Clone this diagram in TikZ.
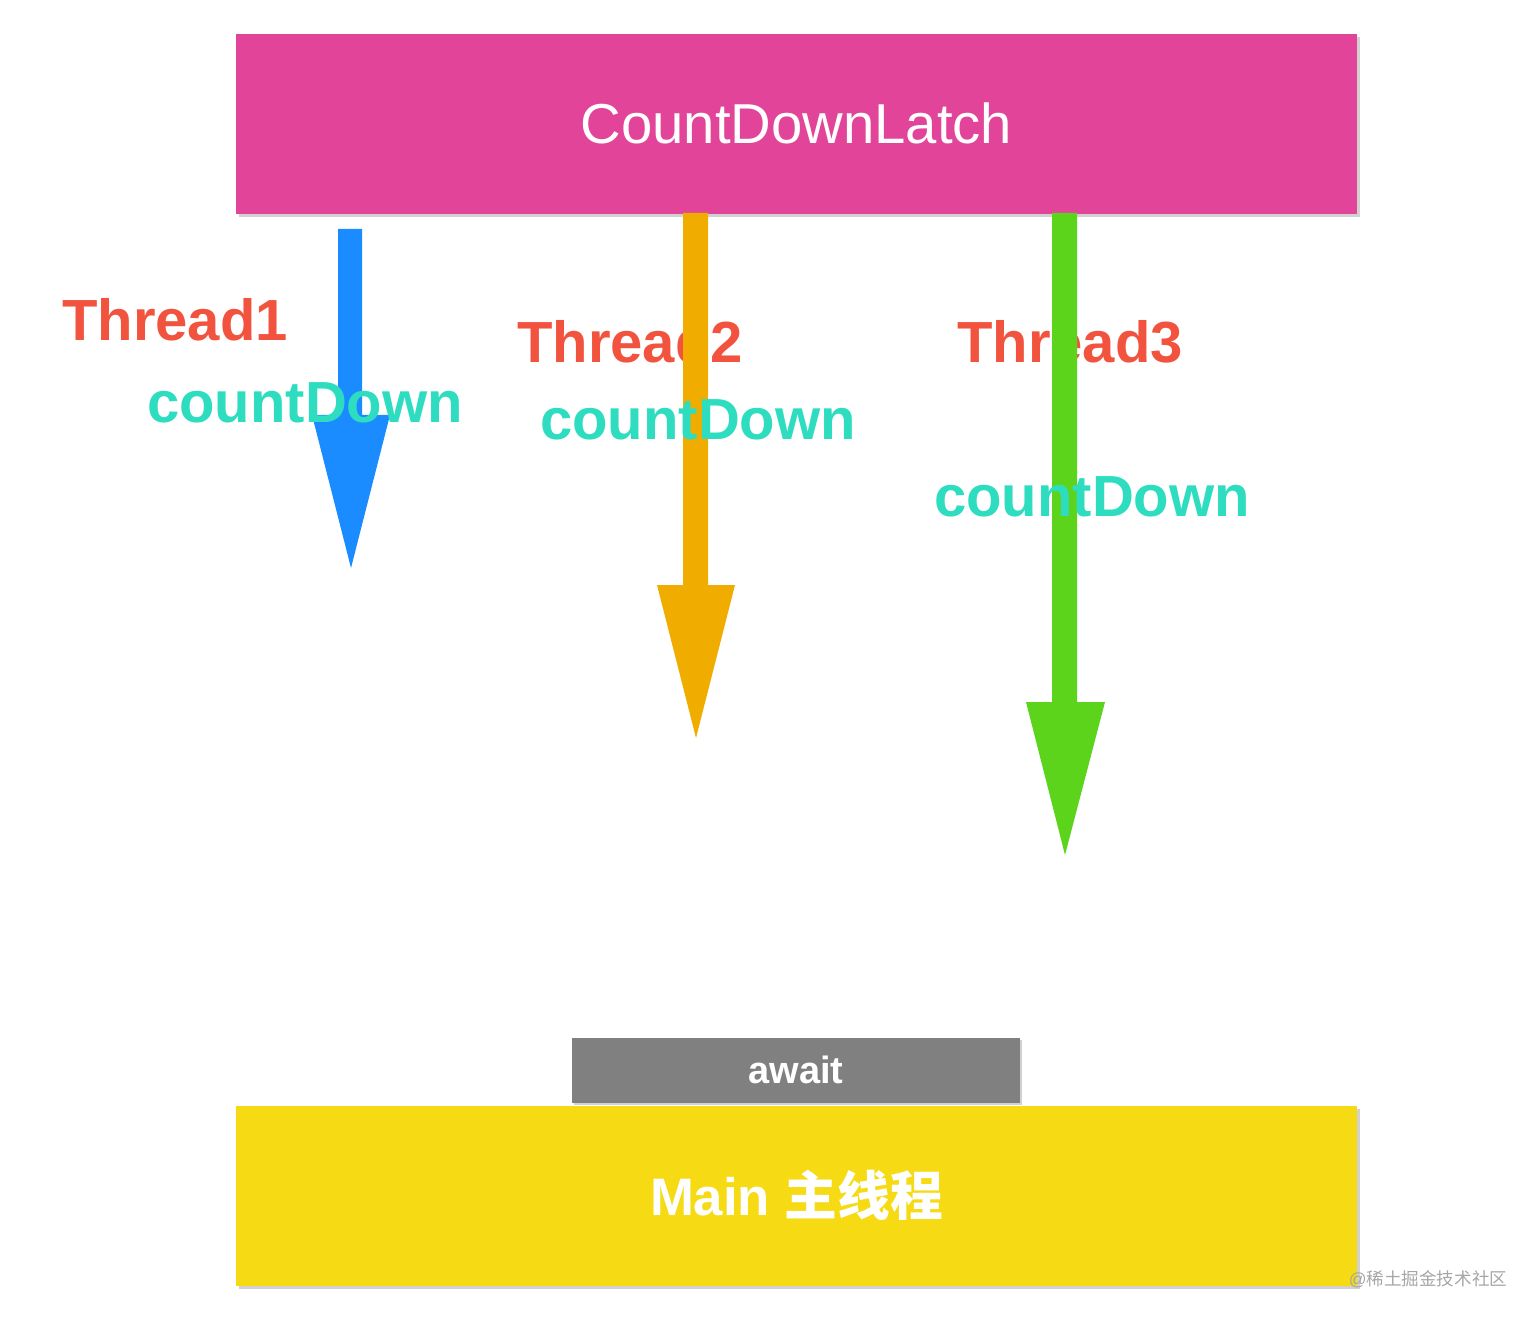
\documentclass[tikz,border=0pt]{standalone}
\usepackage{fontspec}
\setmainfont{Liberation Sans}
\newfontfamily\cjk{Noto Sans CJK SC}
\definecolor{pinkc}{HTML}{E2449A}
\definecolor{bluec}{HTML}{1A8CFF}
\definecolor{orangec}{HTML}{F0AD00}
\definecolor{greenc}{HTML}{5DD41C}
\definecolor{redc}{HTML}{F2533E}
\definecolor{cyanc}{HTML}{2EDDC0}
\definecolor{yellowc}{HTML}{F5DA14}
\definecolor{grayc}{HTML}{808080}
\begin{document}
\begin{tikzpicture}[x=0.01cm,y=-0.01cm,
  thr/.style={text=redc,font=\fontsize{16.5}{18}\selectfont\bfseries,inner sep=0},
  cd/.style={text=cyanc,font=\fontsize{16.5}{18}\selectfont\bfseries,inner sep=0},
  shadowbox/.style={fill=black!18,draw=none}]
\useasboundingbox (0,0) rectangle (1540,1322);
% top box
\fill[shadowbox] (239,37) rectangle (1360,217);
\node[fill=pinkc,minimum width=11.21cm,minimum height=1.8cm,anchor=north west,inner sep=0] (latch) at (235,33) {};
\node[text=white,font=\fontsize{16}{18}\selectfont] at (latch.center) {CountDownLatch};
% thread labels (under arrows)
\node[thr] (t1) at (175,320) {Thread1};
\node[thr] (t2) at (630,342) {Thread2};
\node[thr] (t3) at (1070,342) {Thread3};
% arrows
\fill[bluec] (338,229) -- (362,229) -- (362,415) -- (390,415) -- (351,568) -- (312,415) -- (338,415) -- cycle;
\fill[orangec] (683,213) -- (708,213) -- (708,585) -- (735,585) -- (696,738) -- (657,585) -- (683,585) -- cycle;
\node[cd] (c1) at (305,403) {countDown};
\node[cd] (c2) at (698,420) {countDown};
\fill[greenc] (1052,213) -- (1077,213) -- (1077,702) -- (1105,702) -- (1065,855) -- (1026,702) -- (1052,702) -- cycle;
\node[cd] (c3) at (1092,497) {countDown};
% await
\fill[shadowbox] (574,1040) rectangle (1022,1105);
\node[fill=grayc,minimum width=4.48cm,minimum height=0.65cm,anchor=north west,inner sep=0] (await) at (571,1037) {};
\node[text=white,font=\fontsize{10.8}{12}\selectfont\bfseries] at (await.center) {await};
% main
\fill[shadowbox] (239,1109) rectangle (1360,1289);
\node[fill=yellowc,minimum width=11.21cm,minimum height=1.8cm,anchor=north west,inner sep=0] (main) at (235,1105) {};
\node[text=white,font=\fontsize{15}{17}\selectfont\bfseries] at (main.center) {Main {\cjk\bfseries 主线程}};
\node[text=black!35,font=\fontsize{5}{6}\selectfont] (wm) at (1428,1279) {@{\cjk 稀土掘金技术社区}};
\end{tikzpicture}
\end{document}
